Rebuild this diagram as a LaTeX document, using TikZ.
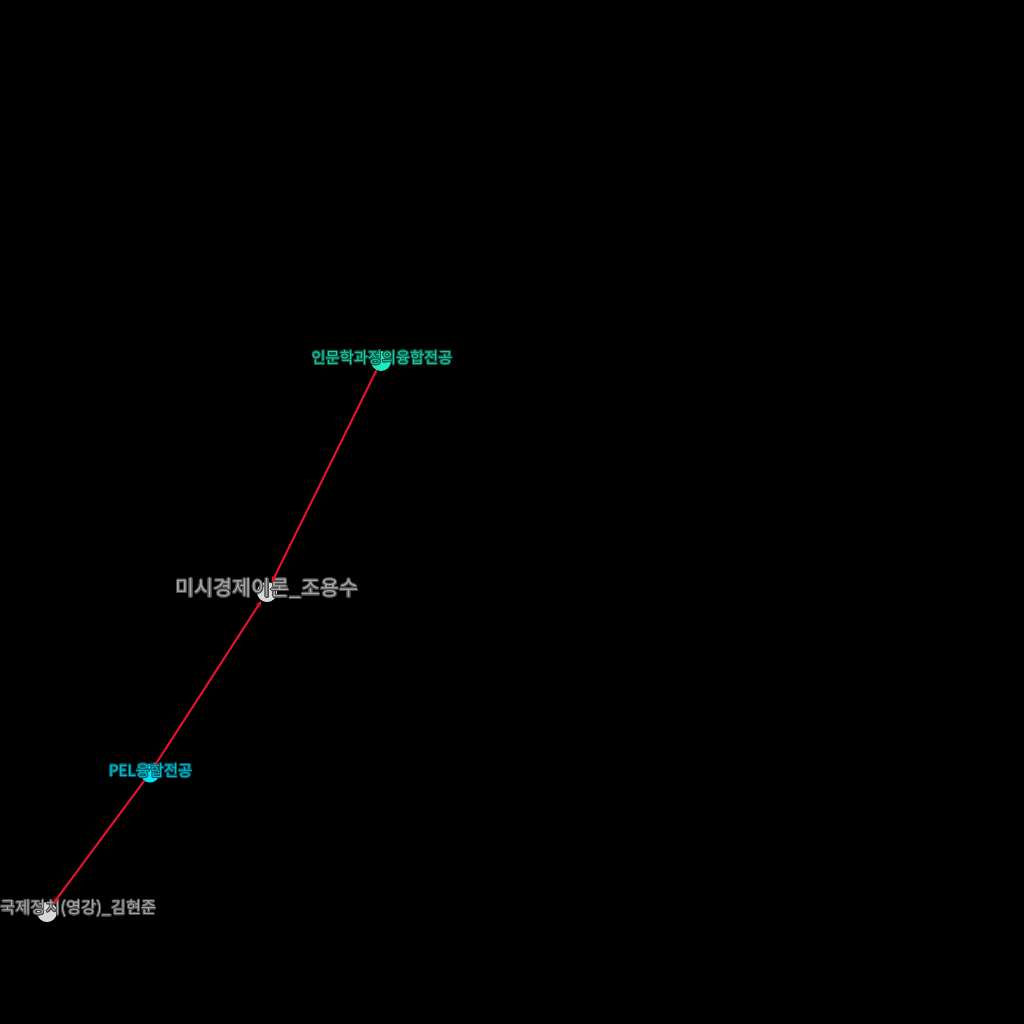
\documentclass[tikz,border=0pt]{standalone}
\usepackage{fontspec}
\usepackage{contour}
\newfontfamily\kr{Noto Sans CJK KR}
\usetikzlibrary{arrows.meta}
\definecolor{bg}{HTML}{000000}
\definecolor{edgered}{HTML}{E8102A}
\definecolor{tealnode}{HTML}{1DE9C0}
\definecolor{cyannode}{HTML}{00E5F0}
\definecolor{greynode}{HTML}{D8D8D8}
\definecolor{tealtext}{HTML}{1EC9A2}
\definecolor{tealline}{HTML}{0A5A4A}
\definecolor{cyantext}{HTML}{00BCD0}
\definecolor{cyanline}{HTML}{005A66}
\definecolor{greytext}{HTML}{A8A8A8}
\definecolor{greyline}{HTML}{4A4A4A}
\contourlength{0.8pt}
\contournumber{24}
\tikzset{
  dot/.style={circle, inner sep=0pt, minimum size=20pt},
  lbl/.style={inner sep=0pt, font=\kr},
  link/.style={draw=edgered, line width=2pt, -{Stealth[length=6.5pt,width=5pt]}},
}
\begin{document}
\begin{tikzpicture}[x=1pt,y=-1pt]
\fill[bg] (0,0) rectangle (1024,1024);
\useasboundingbox (0,0) rectangle (1024,1024);
% circles
\node[dot, fill=tealnode] (inmun) at (381,361) {};
\node[dot, fill=greynode] (misi) at (267,592) {};
\node[dot, fill=cyannode, minimum size=19pt] (pel) at (150,773) {};
\node[dot, fill=greynode] (gukje) at (47,912) {};
% labels
\node[lbl, font=\kr\fontsize{15.3}{15.3}\selectfont, text=tealtext] (inmunL) at (382,358) {\contour{tealline}{인문학과정의융합전공}};
\node[lbl, font=\kr\fontsize{20.7}{20.7}\selectfont, text=greytext] (misiL) at (267,589) {\contour{greyline}{미시경제이론\_조용수}};
\node[lbl, font=\kr\fontsize{15.3}{15.3}\selectfont, text=cyantext] (pelL) at (150.5,771) {\contour{cyanline}{PEL융합전공}};
\node[lbl, font=\kr\fontsize{16.4}{16.4}\selectfont, text=greytext, anchor=west] (gukjeL) at (0,909) {\contour{greyline}{국제정치(영강)\_김현준}};
% edges
\draw[link] (inmun) -- (misi);
\draw[link] (pel) -- (misi);
\draw[link] (pel) -- (gukje);
\end{tikzpicture}
\end{document}
